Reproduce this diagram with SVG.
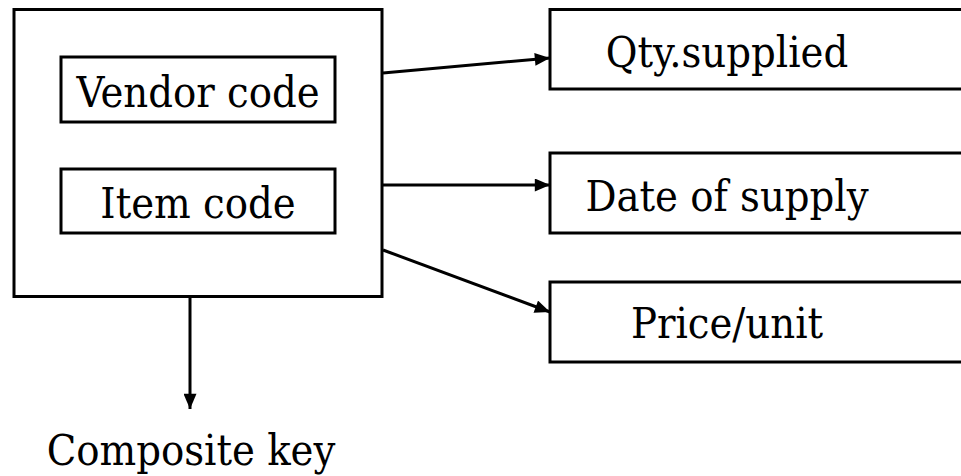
<svg xmlns="http://www.w3.org/2000/svg" width="961" height="476" viewBox="0 0 961 476">
<style>
.box{fill:#fff;stroke:#000;stroke-width:3}
text{font-family:'DejaVu Serif Condensed','DejaVu Serif',serif;font-stretch:condensed;font-size:43px;fill:#000;text-anchor:middle}
.c{stroke:#000;stroke-width:3;fill:none}
</style>
<defs>
<marker id="ah" viewBox="0 0 14 12" refX="14" refY="6" markerWidth="16" markerHeight="13" orient="auto" markerUnits="userSpaceOnUse">
<path d="M0,0 L14,6 L0,12 z" fill="#000"/>
</marker>
</defs>
<rect width="961" height="476" fill="#fff"/>
<g id="composite">
<rect class="box" x="14" y="9.5" width="368" height="287"/>
</g>
<g id="vendor">
<rect class="box" x="61" y="57" width="274" height="65"/>
<text x="198" y="107">Vendor code</text>
</g>
<g id="item">
<rect class="box" x="61" y="169" width="274" height="64"/>
<text x="198" y="218">Item code</text>
</g>
<g id="qty">
<rect class="box" x="550" y="9.5" width="420" height="79.5"/>
<text x="727" y="67">Qty.supplied</text>
</g>
<g id="date">
<rect class="box" x="550" y="153" width="420" height="80"/>
<text x="727" y="211">Date of supply</text>
</g>
<g id="price">
<rect class="box" x="550" y="282" width="420" height="80"/>
<text x="727" y="338">Price/unit</text>
</g>
<g id="key-label">
<text x="191" y="465">Composite key</text>
</g>
<g id="connectors">
<line class="c" x1="383" y1="73" x2="550" y2="58" marker-end="url(#ah)"/>
<line class="c" x1="383" y1="185" x2="550" y2="185" marker-end="url(#ah)"/>
<line class="c" x1="383" y1="250" x2="550" y2="312" marker-end="url(#ah)"/>
<line class="c" x1="190" y1="298" x2="190" y2="409" marker-end="url(#ah)"/>
</g>
</svg>
